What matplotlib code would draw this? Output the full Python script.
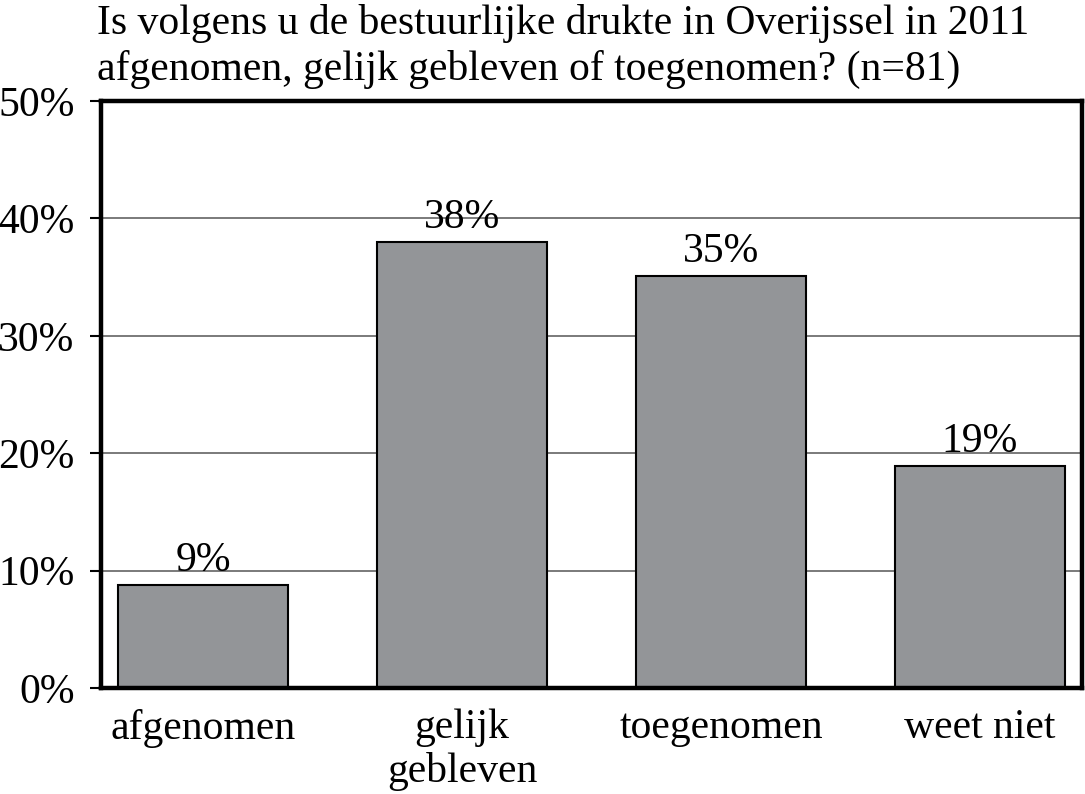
import matplotlib
matplotlib.use("Agg")
import matplotlib.pyplot as plt

categories = ["afgenomen", "gelijk\ngebleven", "toegenomen", "weet niet"]
values = [8.8, 38.0, 35.1, 18.9]
value_labels = ["9%", "38%", "35%", "19%"]
yticks = [0, 10, 20, 30, 40, 50]
ytick_labels = ["0%", "10%", "20%", "30%", "40%", "50%"]
title_lines = ["Is volgens u de bestuurlijke drukte in Overijssel in 2011",
               "afgenomen, gelijk gebleven of toegenomen? (n=81)"]

plt.rcParams['font.family'] = ['Liberation Serif', 'DejaVu Serif']
FS = 30

fig = plt.figure(figsize=(10.85, 7.94), dpi=100)
ax = fig.add_axes([101/1085, 1-688/794, (1082-101)/1085, (688-101)/794])

x = list(range(len(categories)))
ax.bar(x, values, width=0.656, color="#939598", edgecolor="black", linewidth=1.5, zorder=3)
for xi, v, lab in zip(x, values, value_labels):
    ax.annotate(lab, (xi, v), xytext=(0, 10), textcoords="offset points",
                ha="center", va="baseline", fontsize=FS, zorder=4)

ax.set_xlim(-0.394, 3.394)
ax.set_ylim(0, 50)
ax.set_yticks(yticks)
ax.set_yticklabels(ytick_labels, fontsize=FS)
ax.set_xticks(x)
ax.set_xticklabels(categories, fontsize=FS, linespacing=1.14)
ax.tick_params(axis='x', length=0, pad=15)
ax.tick_params(axis='y', length=8, width=1.5, pad=11, direction='out')
ax.yaxis.grid(True, color="#707070", linewidth=1.3, zorder=0)
for s in ax.spines.values():
    s.set_linewidth(3.2)
    s.set_color("black")
    s.set_zorder(5)

fig.text(97/1085, 1-34/794, title_lines[0], fontsize=FS, ha="left", va="baseline")
fig.text(97/1085, 1-80/794, title_lines[1], fontsize=FS, ha="left", va="baseline")

fig.savefig("out.png", dpi=100)
